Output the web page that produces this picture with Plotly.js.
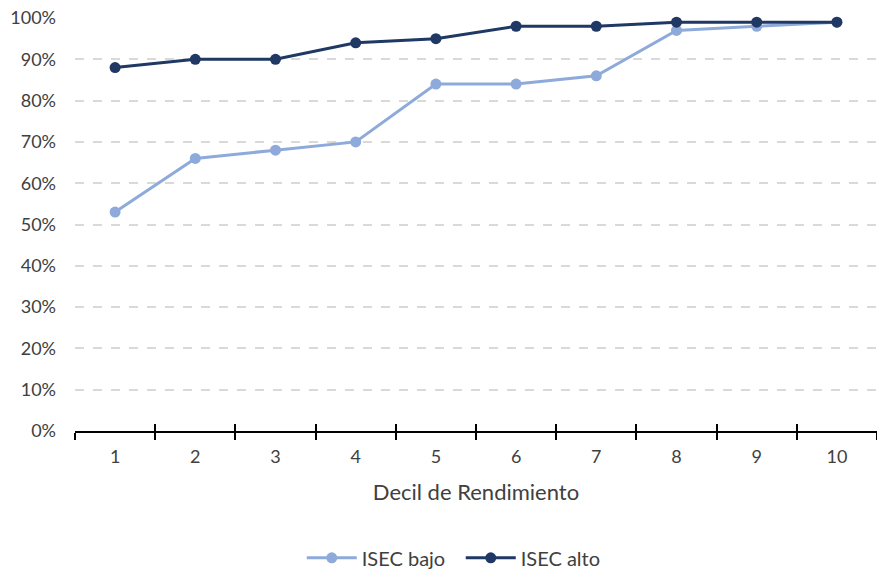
<!DOCTYPE html>
<html>
<head>
<meta charset="utf-8">
<script src="https://cdn.plot.ly/plotly-3.0.1.min.js"></script>
<style>
  html, body { margin: 0; padding: 0; background: #ffffff; }
  #chart { width: 877px; height: 570px; }
</style>
</head>
<body>
<div id="chart"></div>
<script>
// Deciles of performance (x categories)
const deciles = ['1', '2', '3', '4', '5', '6', '7', '8', '9', '10'];

// Share per decile, low socioeconomic index
const isecBajo = [0.53, 0.66, 0.68, 0.70, 0.84, 0.84, 0.86, 0.97, 0.98, 0.99];

// Share per decile, high socioeconomic index
const isecAlto = [0.88, 0.90, 0.90, 0.94, 0.95, 0.98, 0.98, 0.99, 0.99, 0.99];

const seriesNames = ['ISEC bajo', 'ISEC alto'];
const yTickVals = [0, 0.1, 0.2, 0.3, 0.4, 0.5, 0.6, 0.7, 0.8, 0.9, 1.0];

const FONT = 'Lato, "Noto Sans", sans-serif';
const TEXT = '#404040';

// category index range covering the outer boundaries
const xRange = [-0.5, deciles.length - 0.5];

const traces = [
  {
    x: deciles, y: isecBajo, name: seriesNames[0],
    type: 'scatter', mode: 'lines+markers',
    line: { color: '#8eaadb', width: 3 },
    marker: { color: '#8eaadb', size: 11 },
    cliponaxis: false
  },
  {
    x: deciles, y: isecAlto, name: seriesNames[1],
    type: 'scatter', mode: 'lines+markers',
    line: { color: '#1f3864', width: 3 },
    marker: { color: '#1f3864', size: 11 },
    cliponaxis: false
  },
  // carrier for the upper half of the category boundary ticks
  {
    x: deciles, y: isecAlto, xaxis: 'x2', type: 'scatter', mode: 'none',
    showlegend: false, hoverinfo: 'skip'
  }
];

const layout = {
  width: 877,
  height: 570,
  margin: { l: 75, r: 0, t: 18, b: 139, autoexpand: false },
  paper_bgcolor: '#ffffff',
  plot_bgcolor: '#ffffff',
  font: { family: FONT, color: TEXT, size: 18 },
  showlegend: true,
  legend: {
    orientation: 'h',
    x: 0.481, xanchor: 'center',
    y: -0.307, yanchor: 'middle',
    font: { family: FONT, size: 20, color: TEXT },
    itemwidth: 50,
    entrywidth: 94
  },
  xaxis: {
    type: 'category',
    range: xRange,
    automargin: false,
    tickson: 'boundaries',
    ticks: 'outside',
    ticklen: 7,
    tickwidth: 2,
    tickcolor: '#000000',
    showline: true,
    linecolor: '#000000',
    linewidth: 2,
    showgrid: false,
    zeroline: false,
    tickfont: { family: FONT, size: 18, color: TEXT },
    ticklabelstandoff: 8,
    title: { text: 'Decil de Rendimiento', font: { family: FONT, size: 22, color: TEXT }, standoff: 19 }
  },
  xaxis2: {
    type: 'category',
    overlaying: 'x',
    matches: 'x',
    side: 'bottom',
    anchor: 'y',
    automargin: false,
    tickson: 'boundaries',
    ticks: 'inside',
    ticklen: 7,
    tickwidth: 2,
    tickcolor: '#000000',
    showticklabels: false,
    showgrid: false,
    showline: false,
    zeroline: false
  },
  yaxis: {
    range: [0, 1],
    automargin: false,
    tickvals: yTickVals,
    tickformat: '.0%',
    showgrid: true,
    gridcolor: '#d9d9d9',
    gridwidth: 2,
    griddash: 'dash',
    zeroline: false,
    showline: false,
    ticks: '',
    ticklabelstandoff: 18,
    tickfont: { family: FONT, size: 18, color: TEXT }
  }
};

Plotly.newPlot('chart', traces, layout, { displayModeBar: false, staticPlot: true });
</script>
</body>
</html>
